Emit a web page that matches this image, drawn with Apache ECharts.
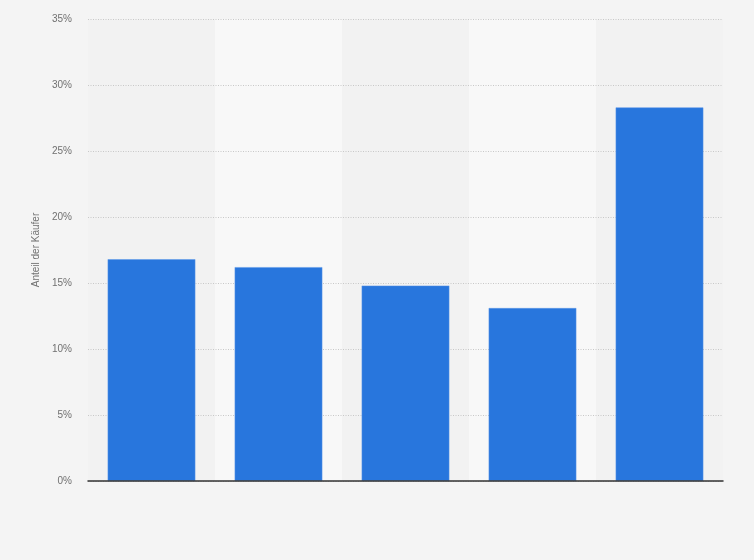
<!DOCTYPE html>
<html>
<head>
<meta charset="utf-8">
<script src="https://cdn.jsdelivr.net/npm/echarts@6/dist/echarts.min.js"></script>
<style>
  html, body { margin: 0; padding: 0; background: #f4f4f4; }
  #chart { width: 754px; height: 560px; }
</style>
</head>
<body>
<div id="chart"></div>
<script>
// Kategorien ohne sichtbare Beschriftung
var categories = ['1', '2', '3', '4', '5'];
var values = [16.8, 16.2, 14.8, 13.1, 28.3];
var yTicks = [0, 5, 10, 15, 20, 25, 30, 35];

var chart = echarts.init(document.getElementById('chart'));
chart.setOption({
  backgroundColor: '#f4f4f4',
  grid: { left: 88, right: 31, top: 19, bottom: 79 },
  xAxis: [{
    // Achse mit Linie, oberhalb der Gitterlinien
    type: 'category',
    data: categories,
    z: 3,
    axisLine: { lineStyle: { color: '#333', width: 1.5 } },
    axisTick: { show: false },
    axisLabel: { show: false }
  }, {
    // nur für die Hintergrundstreifen
    type: 'category',
    data: categories,
    position: 'bottom',
    z: 0,
    axisLine: { show: false },
    axisTick: { show: false },
    axisLabel: { show: false },
    splitArea: { show: true, areaStyle: { color: ['#f2f2f2', '#f8f8f8'] } }
  }],
  yAxis: {
    type: 'value',
    z: 1,
    min: yTicks[0],
    max: yTicks[yTicks.length - 1],
    interval: 5,
    name: 'Anteil der Käufer',
    nameLocation: 'middle',
    nameGap: 37,
    nameTextStyle: { color: '#707070', fontSize: 10, fontFamily: 'Liberation Sans' },
    axisLine: { show: false },
    axisTick: { show: false },
    axisLabel: {
      color: '#707070', fontSize: 10, fontFamily: 'Liberation Sans', margin: 16,
      formatter: function (v) { return v + '%'; }
    },
    splitLine: { lineStyle: { color: '#c8c8c8', type: [1, 1.5] } }
  },
  series: [{
    type: 'bar',
    data: values,
    z: 2,
    barCategoryGap: '31%',
    itemStyle: { color: '#2876dd', borderColor: '#5a97e8', borderWidth: 0.5 },
    silent: true
  }],
  animation: false
});
</script>
</body>
</html>
